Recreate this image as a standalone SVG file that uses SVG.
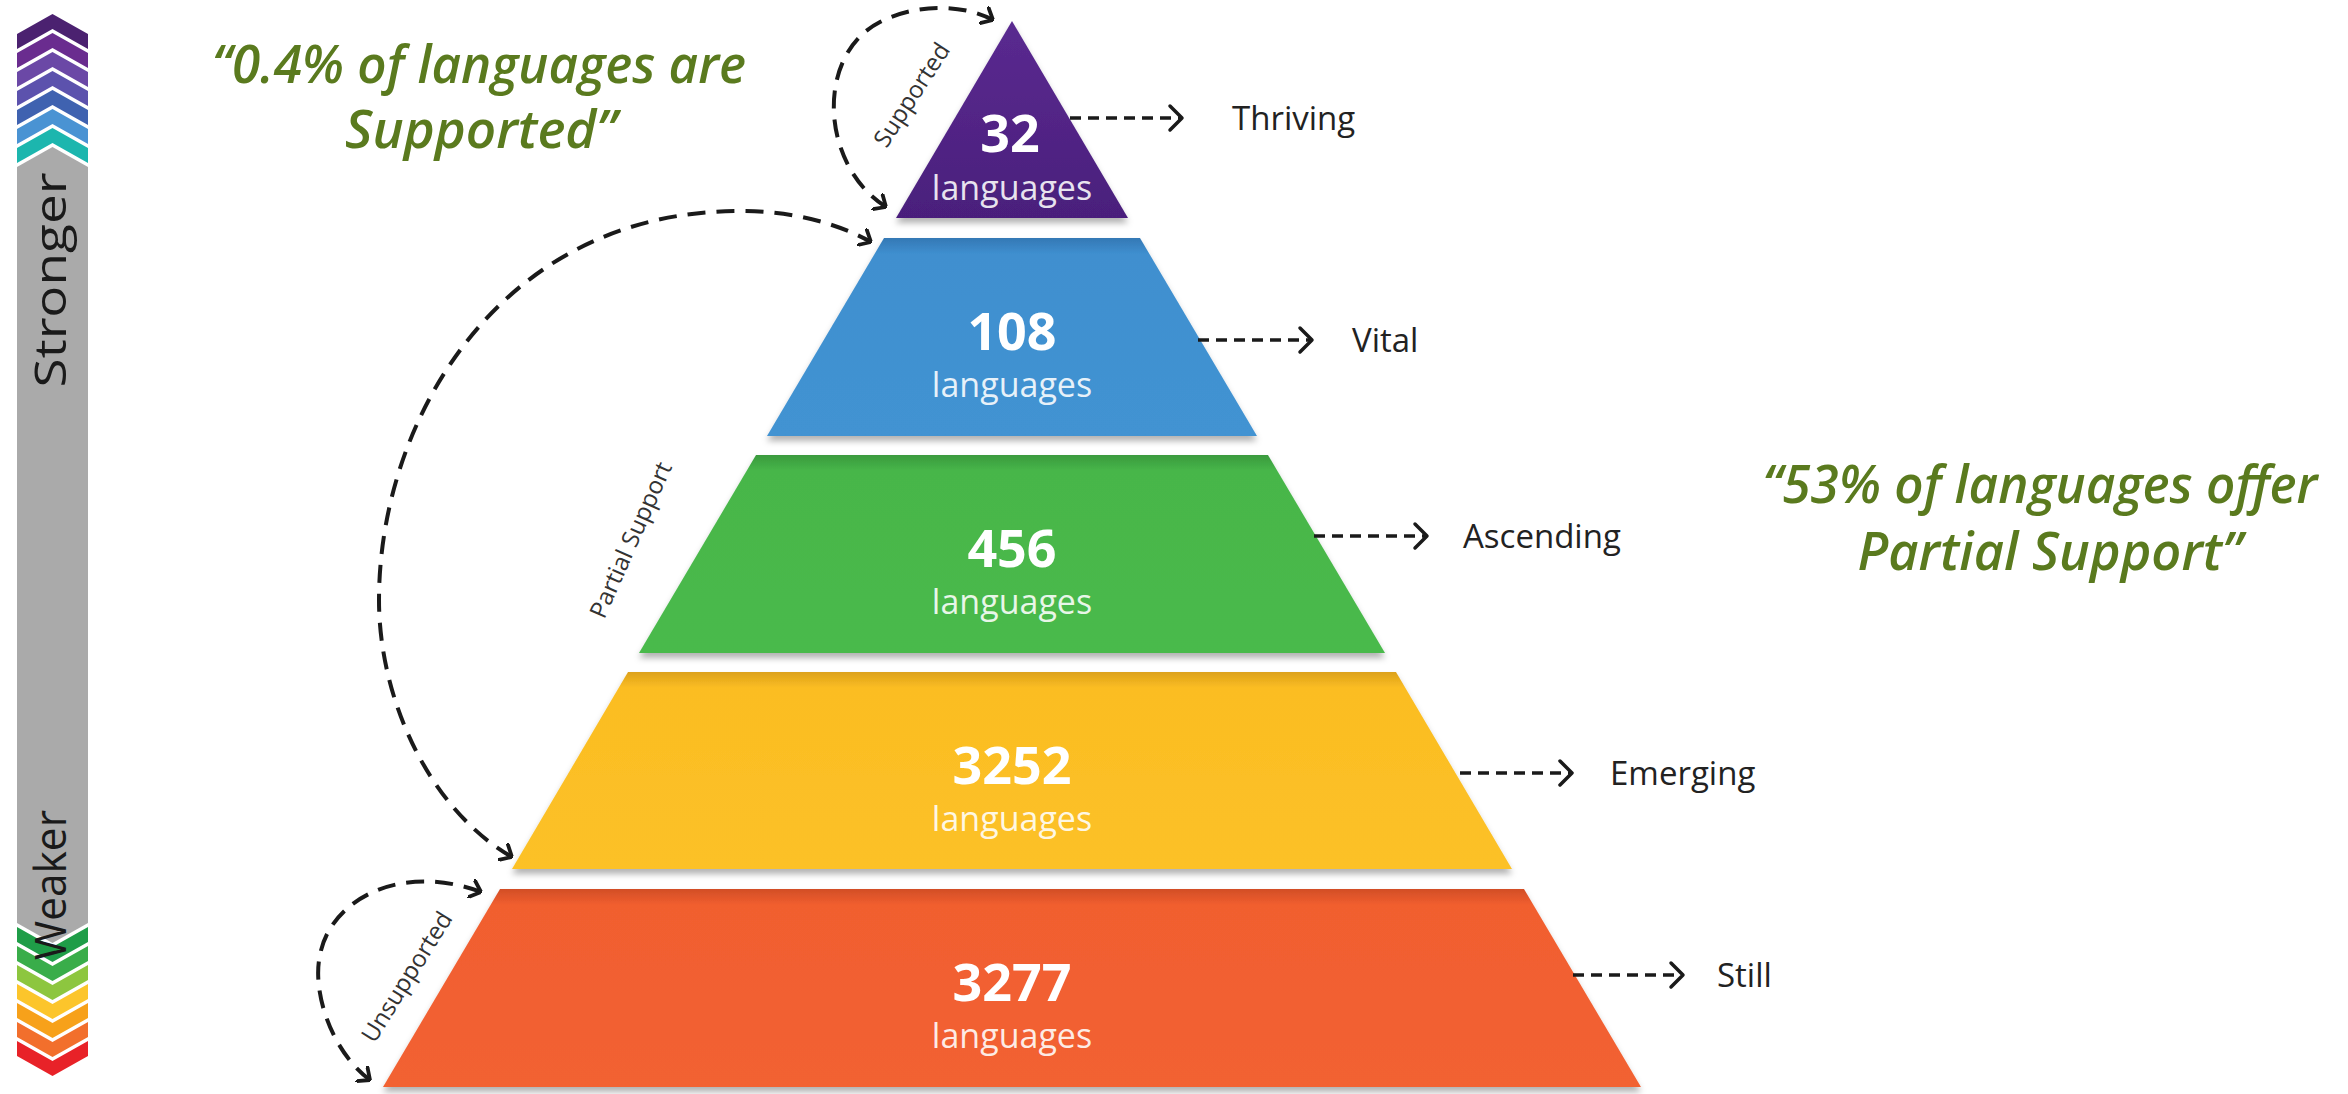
<svg xmlns="http://www.w3.org/2000/svg" width="2348" height="1094" viewBox="0 0 2348 1094">
<style>
.num{font-family:"Open Sans","DejaVu Sans",sans-serif;font-weight:700;font-size:52px;fill:#fff;text-anchor:middle}
.lang{font-family:"Open Sans","DejaVu Sans",sans-serif;font-size:34px;fill:#fff;fill-opacity:.88;text-anchor:middle}
.lvl{font-family:"Open Sans","DejaVu Sans",sans-serif;font-size:33px;fill:#222}
.side{font-family:"Open Sans","DejaVu Sans",sans-serif;font-size:44px;fill:#1a1a1a;text-anchor:middle}
.arc{font-family:"Open Sans","DejaVu Sans",sans-serif;font-size:24px;fill:#333;text-anchor:middle}
.quote{font-family:"Open Sans","DejaVu Sans",sans-serif;font-weight:600;font-style:italic;font-size:52px;fill:#5a7a1e;text-anchor:middle}
.dash{fill:none;stroke:#1a1a1a;stroke-width:3.5;stroke-dasharray:11 7}
.curve{fill:none;stroke:#1a1a1a;stroke-width:4;stroke-dasharray:18 11}
.head{fill:none;stroke:#1a1a1a;stroke-width:3.5;stroke-linecap:round;stroke-linejoin:round}
</style>
<defs>
<marker id="ah" viewBox="0 0 12 20" refX="11" refY="10" markerWidth="12" markerHeight="20" markerUnits="userSpaceOnUse" orient="auto-start-reverse">
<path d="M1,1 L11,10 L1,19" fill="none" stroke="#1a1a1a" stroke-width="3.8" stroke-linecap="round" stroke-linejoin="round"/>
</marker>
<filter id="sh" x="-10%" y="-10%" width="120%" height="130%">
<feDropShadow dx="0" dy="5" stdDeviation="3" flood-color="#000" flood-opacity="0.3"/>
</filter>
<linearGradient id="g1" x1="0" y1="0" x2="0" y2="1"><stop offset="0" stop-color="#5a2a90"/><stop offset="1" stop-color="#4a1f7c"/></linearGradient>
<linearGradient id="g2" x1="0" y1="0" x2="0" y2="1"><stop offset="0" stop-color="#3478b5"/><stop offset="0.08" stop-color="#3f8fcf"/><stop offset="1" stop-color="#4293d2"/></linearGradient>
<linearGradient id="g3" x1="0" y1="0" x2="0" y2="1"><stop offset="0" stop-color="#3a9a3e"/><stop offset="0.08" stop-color="#47b649"/><stop offset="1" stop-color="#4aba4c"/></linearGradient>
<linearGradient id="g4" x1="0" y1="0" x2="0" y2="1"><stop offset="0" stop-color="#dca11c"/><stop offset="0.08" stop-color="#fbbd22"/><stop offset="1" stop-color="#fcc128"/></linearGradient>
<linearGradient id="g5" x1="0" y1="0" x2="0" y2="1"><stop offset="0" stop-color="#d24e26"/><stop offset="0.08" stop-color="#f15e2f"/><stop offset="1" stop-color="#f26232"/></linearGradient>
</defs>
<rect width="2348" height="1094" fill="#fff"/>

<g id="strength-bar">
<polygon points="17,34 52.5,14 88,34 88,49 52.5,29 17,49" fill="#4b2170"/>
<polygon points="17,53 52.5,33 88,53 88,68 52.5,48 17,68" fill="#6a2c8f"/>
<polygon points="17,72 52.5,52 88,72 88,87 52.5,67 17,87" fill="#6b48a6"/>
<polygon points="17,91 52.5,71 88,91 88,106 52.5,86 17,106" fill="#5c52ad"/>
<polygon points="17,110 52.5,90 88,110 88,125 52.5,105 17,125" fill="#3f62b0"/>
<polygon points="17,129 52.5,109 88,129 88,144 52.5,124 17,144" fill="#4a93d3"/>
<polygon points="17,148 52.5,128 88,148 88,163 52.5,143 17,163" fill="#1cb6ae"/>
<polygon points="17,167 52.5,147 88,167 88,923 52.5,943 17,923" fill="#aaaaaa"/>
<polygon points="17,927 52.5,947 88,927 88,942 52.5,962 17,942" fill="#1f9d48"/>
<polygon points="17,946 52.5,966 88,946 88,961 52.5,981 17,961" fill="#39ad4a"/>
<polygon points="17,965 52.5,985 88,965 88,980 52.5,1000 17,980" fill="#8dc63f"/>
<polygon points="17,984 52.5,1004 88,984 88,999 52.5,1019 17,999" fill="#fcc52b"/>
<polygon points="17,1003 52.5,1023 88,1003 88,1018 52.5,1038 17,1018" fill="#f7a11a"/>
<polygon points="17,1022 52.5,1042 88,1022 88,1037 52.5,1057 17,1037" fill="#f26f2c"/>
<polygon points="17,1041 52.5,1061 88,1041 88,1056 52.5,1076 17,1056" fill="#e82228"/>
<text class="side" transform="translate(66,280) rotate(-90)" textLength="215" lengthAdjust="spacingAndGlyphs">Stronger</text>
<text class="side" transform="translate(66,885) rotate(-90)" textLength="150" lengthAdjust="spacingAndGlyphs">Weaker</text>
</g>

<g id="quote-supported">
<text class="quote" x="479" y="83" textLength="534" lengthAdjust="spacingAndGlyphs">“0.4% of languages are</text>
<text class="quote" x="481" y="148" textLength="272" lengthAdjust="spacingAndGlyphs">Supported”</text>
</g>
<g id="quote-partial">
<text class="quote" x="2040" y="503" textLength="555" lengthAdjust="spacingAndGlyphs">“53% of languages offer</text>
<text class="quote" x="2050" y="570" textLength="385" lengthAdjust="spacingAndGlyphs">Partial Support”</text>
</g>

<g id="tier-thriving">
<polygon points="1012,21 1128,218 896,218" fill="url(#g1)" filter="url(#sh)"/>
<text class="num" x="1010" y="152">32</text>
<text class="lang" x="1012" y="200">languages</text>
</g>
<g id="tier-vital">
<polygon points="884,238 1140,238 1257,436 767,436" fill="url(#g2)" filter="url(#sh)"/>
<text class="num" x="1012" y="350">108</text>
<text class="lang" x="1012" y="397">languages</text>
</g>
<g id="tier-ascending">
<polygon points="756,455 1268,455 1385,653 639,653" fill="url(#g3)" filter="url(#sh)"/>
<text class="num" x="1012" y="567">456</text>
<text class="lang" x="1012" y="614">languages</text>
</g>
<g id="tier-emerging">
<polygon points="628,672 1396,672 1512,869 512,869" fill="url(#g4)" filter="url(#sh)"/>
<text class="num" x="1012" y="784">3252</text>
<text class="lang" x="1012" y="831">languages</text>
</g>
<g id="tier-still">
<polygon points="500,889 1524,889 1641,1087 383,1087" fill="url(#g5)" filter="url(#sh)"/>
<text class="num" x="1012" y="1001">3277</text>
<text class="lang" x="1012" y="1048">languages</text>
</g>

<g id="level-labels">
<text class="lvl" x="1232" y="130">Thriving</text>
<text class="lvl" x="1352" y="352">Vital</text>
<text class="lvl" x="1463" y="548">Ascending</text>
<text class="lvl" x="1610" y="785">Emerging</text>
<text class="lvl" x="1717" y="987">Still</text>
</g>

<g id="connectors">
<line class="dash" x1="1070" y1="118" x2="1180" y2="118"/>
<polyline class="head" points="1170,106 1182,118 1170,130"/>
<line class="dash" x1="1198" y1="340" x2="1310" y2="340"/>
<polyline class="head" points="1300,328 1312,340 1300,352"/>
<line class="dash" x1="1314" y1="536" x2="1425" y2="536"/>
<polyline class="head" points="1415,524 1427,536 1415,548"/>
<line class="dash" x1="1460" y1="773" x2="1570" y2="773"/>
<polyline class="head" points="1560,761 1572,773 1560,785"/>
<line class="dash" x1="1573" y1="975" x2="1681" y2="975"/>
<polyline class="head" points="1671,963 1683,975 1671,987"/>

<path class="curve" d="M 886 207 C 820 165, 815 55, 880 22 C 920 2, 965 5, 993 20" marker-start="url(#ah)" marker-end="url(#ah)"/>
<path class="curve" d="M 512 857 C 430 810, 379 700, 379 600 C 379 420, 500 211, 740 211 C 790 211, 835 222, 871 242" marker-start="url(#ah)" marker-end="url(#ah)"/>
<path class="curve" d="M 370 1080 C 330 1050, 312 990, 320 955 C 330 900, 400 862, 481 892" marker-start="url(#ah)" marker-end="url(#ah)"/>
</g>

<g id="arc-labels">
<text class="arc" transform="translate(912,95) rotate(-57)" dy="8">Supported</text>
<text class="arc" transform="translate(631,540) rotate(-66)" dy="8">Partial Support</text>
<text class="arc" transform="translate(407,977) rotate(-58)" dy="8">Unsupported</text>
</g>
</svg>
